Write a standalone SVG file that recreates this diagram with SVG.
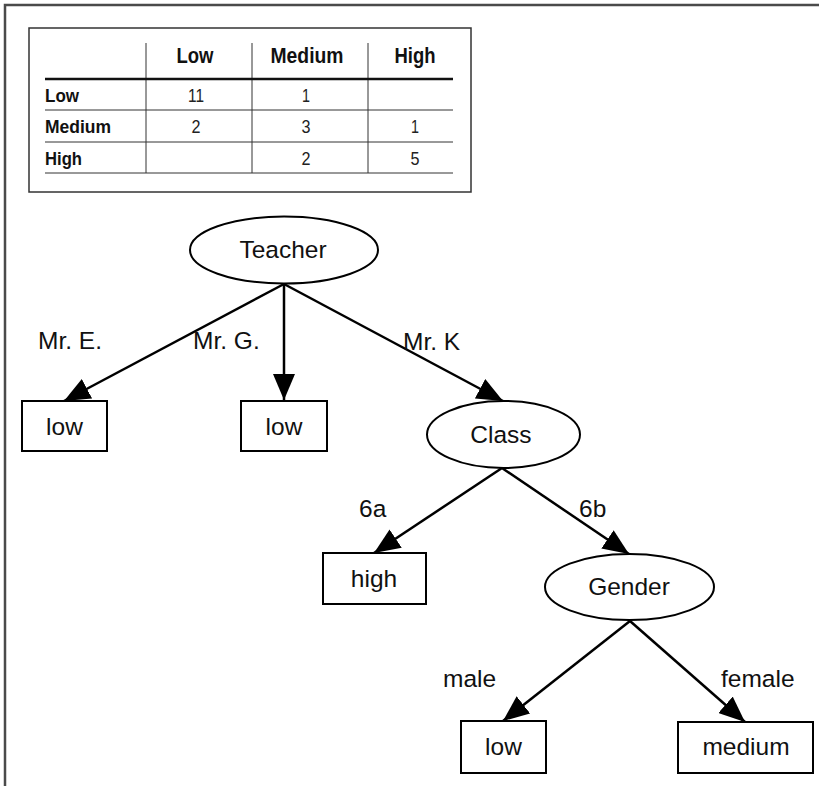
<svg xmlns="http://www.w3.org/2000/svg" width="819" height="786" viewBox="0 0 819 786">
<defs>
<style>
.frame{stroke:#4a4a4a;stroke-width:2.5;fill:none}
.tbl{fill:none;stroke:#333;stroke-width:1.5}
.grid{stroke:#333;stroke-width:1}
.thick{stroke:#111;stroke-width:2.5}
.th{font-family:"Liberation Sans",Arial,sans-serif;font-weight:bold;font-size:22px;fill:#111}
.rh{font-family:"Liberation Sans",Arial,sans-serif;font-weight:bold;font-size:18px;fill:#111}
.num{font-family:"Liberation Sans",Arial,sans-serif;font-size:19px;fill:#222;text-anchor:middle}
.node{fill:#fff;stroke:#000;stroke-width:2}
.t{font-family:"Liberation Sans",Arial,Helvetica,sans-serif;font-size:24.5px;fill:#111}
.c{text-anchor:middle}
.edge{stroke:#000;stroke-width:2.5;fill:none;marker-end:url(#arr)}
</style>
<marker id="arr" markerUnits="userSpaceOnUse" viewBox="0 0 26 22" refX="26" refY="11" markerWidth="26" markerHeight="22" orient="auto">
<path d="M0,0 L26,11 L0,22 z" fill="#000"/>
</marker>
</defs>
<rect width="819" height="786" fill="#fff"/>
<path class="frame" d="M5,786 L5,5 L819,5"/>

<g id="table">
<rect class="tbl" x="29" y="28" width="442" height="164"/>
<line class="grid" x1="146" y1="43" x2="146" y2="173"/>
<line class="grid" x1="252" y1="43" x2="252" y2="173"/>
<line class="grid" x1="368" y1="43" x2="368" y2="173"/>
<line class="thick" x1="45" y1="79" x2="453" y2="79"/>
<line class="grid" x1="45" y1="110" x2="453" y2="110"/>
<line class="grid" x1="45" y1="142" x2="453" y2="142"/>
<line class="grid" x1="45" y1="173" x2="453" y2="173"/>
<text class="th" x="176.5" y="63" textLength="37" lengthAdjust="spacingAndGlyphs">Low</text>
<text class="th" x="270.5" y="63" textLength="73" lengthAdjust="spacingAndGlyphs">Medium</text>
<text class="th" x="394.5" y="63" textLength="41" lengthAdjust="spacingAndGlyphs">High</text>
<text class="rh" x="45" y="102" textLength="34" lengthAdjust="spacingAndGlyphs">Low</text>
<text class="rh" x="45" y="133" textLength="66" lengthAdjust="spacingAndGlyphs">Medium</text>
<text class="rh" x="45" y="165" textLength="37" lengthAdjust="spacingAndGlyphs">High</text>
<text class="num" x="196" y="102" textLength="16" lengthAdjust="spacingAndGlyphs">11</text>
<text class="num" x="306" y="102" textLength="8" lengthAdjust="spacingAndGlyphs">1</text>
<text class="num" x="196" y="133" textLength="9" lengthAdjust="spacingAndGlyphs">2</text>
<text class="num" x="306" y="133" textLength="9" lengthAdjust="spacingAndGlyphs">3</text>
<text class="num" x="415" y="133" textLength="8" lengthAdjust="spacingAndGlyphs">1</text>
<text class="num" x="306" y="165" textLength="9" lengthAdjust="spacingAndGlyphs">2</text>
<text class="num" x="415" y="165" textLength="9" lengthAdjust="spacingAndGlyphs">5</text>
</g>

<g id="connectors">
<line class="edge" x1="284" y1="284" x2="64" y2="401"/>
<line class="edge" x1="284" y1="284" x2="284" y2="400"/>
<line class="edge" x1="284" y1="284" x2="503" y2="401"/>
<line class="edge" x1="502" y1="468" x2="374" y2="553"/>
<line class="edge" x1="502" y1="468" x2="629" y2="554"/>
<line class="edge" x1="630" y1="621" x2="503" y2="721"/>
<line class="edge" x1="630" y1="621" x2="745" y2="722"/>
<text class="t" x="38" y="349">Mr. E.</text>
<text class="t" x="193" y="349">Mr. G.</text>
<text class="t" x="403" y="350">Mr. K</text>
<text class="t" x="359" y="517">6a</text>
<text class="t" x="579" y="517">6b</text>
<text class="t" x="443" y="687">male</text>
<text class="t" x="721" y="687">female</text>
</g>

<g id="teacher">
<ellipse class="node" cx="284" cy="250" rx="94" ry="33.5"/>
<text class="t c" x="283" y="258">Teacher</text>
</g>
<g id="low1">
<rect class="node" x="22" y="401" width="85" height="50"/>
<text class="t c" x="64.5" y="435">low</text>
</g>
<g id="low2">
<rect class="node" x="241" y="401" width="86" height="50"/>
<text class="t c" x="284" y="435">low</text>
</g>
<g id="class">
<ellipse class="node" cx="503.5" cy="434.5" rx="76.5" ry="33.5"/>
<text class="t c" x="501" y="443">Class</text>
</g>
<g id="high">
<rect class="node" x="323" y="553" width="103" height="51"/>
<text class="t c" x="374" y="587">high</text>
</g>
<g id="gender">
<ellipse class="node" cx="629.5" cy="587" rx="84.5" ry="33"/>
<text class="t c" x="629" y="595">Gender</text>
</g>
<g id="low3">
<rect class="node" x="461" y="721" width="85" height="52"/>
<text class="t c" x="503.5" y="755">low</text>
</g>
<g id="medium">
<rect class="node" x="678" y="722" width="135" height="51"/>
<text class="t c" x="746" y="755">medium</text>
</g>
</svg>
